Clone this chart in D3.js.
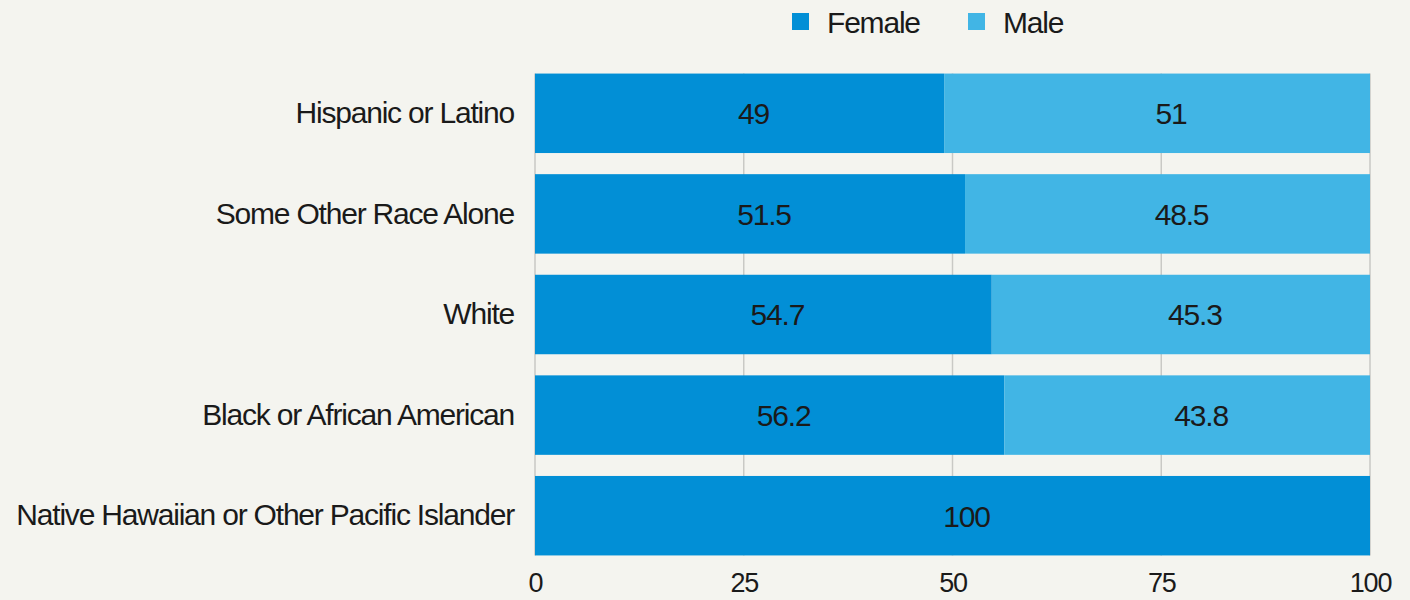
<!DOCTYPE html>
<html>
<head>
<meta charset="utf-8">
<script src="https://cdn.jsdelivr.net/npm/d3@7"></script>
<style>
	body { margin: 0; background: #f4f4ef; }
	svg { display: block; }
	text { font-family: "Liberation Sans", Arial, sans-serif; fill: #1a1a1a; letter-spacing: -1.2px; }
</style>
</head>
<body>
<svg id="chart"></svg>
<script>
const categories = ["Hispanic or Latino", "Some Other Race Alone", "White",
                    "Black or African American", "Native Hawaiian or Other Pacific Islander"];
const female = [49, 51.5, 54.7, 56.2, 100];
const male   = [51, 48.5, 45.3, 43.8, 0];
const series_names = ["Female", "Male"];
const colors = ["#028fd6", "#41b5e5"];
const x_ticks = [0, 25, 50, 75, 100];

const width = 1410, height = 600;
const margin = {top: 63, right: 40, bottom: 34, left: 535};

let svg = d3.select("#chart")
	.attr("width", width)
	.attr("height", height);

let xscale = d3.scaleLinear()
	.domain([0, 100])
	.range([margin.left, width - margin.right]);

let yscale = d3.scaleBand()
	.domain(categories)
	.range([margin.top, height - margin.bottom])
	.paddingInner(0.21)
	.paddingOuter(0.105);

let rows = categories.map((c, i) => ({cat: c, values: [female[i], male[i]]}));

// gridlines, spanning first bar top to last bar bottom
let grid_top = yscale(categories[0]);
let grid_bottom = yscale(categories[categories.length-1]) + yscale.bandwidth();

svg.append("g")
	.attr("id", "grid")
	.selectAll("line")
	.data(x_ticks)
	.join("line")
	.attr("x1", d => xscale(d))
	.attr("x2", d => xscale(d))
	.attr("y1", grid_top)
	.attr("y2", grid_bottom)
	.attr("stroke", "#c9c9c5")
	.attr("stroke-width", 1.5);

// stacked bars
let segments = [];
for (let r of rows) {
	let acc = 0;
	r.values.forEach((v, k) => {
		segments.push({cat: r.cat, x0: acc, x1: acc + v, value: v, k: k});
		acc += v;
	});
}

svg.append("g")
	.attr("id", "bars")
	.selectAll("rect")
	.data(segments.filter(d => d.value > 0))
	.join("rect")
	.attr("x", d => xscale(d.x0))
	.attr("width", d => xscale(d.x1) - xscale(d.x0))
	.attr("y", d => yscale(d.cat))
	.attr("height", yscale.bandwidth())
	.attr("fill", d => colors[d.k]);

svg.append("g")
	.attr("id", "bar-labels")
	.selectAll("text")
	.data(segments.filter(d => d.value > 0))
	.join("text")
	.attr("x", d => (xscale(d.x0) + xscale(d.x1)) / 2 + 14)
	.attr("y", d => yscale(d.cat) + yscale.bandwidth() / 2)
	.attr("dy", "0.36em")
	.attr("text-anchor", "middle")
	.style("font-size", "30px")
	.text(d => d.value);

// category axis
let yaxis = svg.append("g")
	.attr("id", "y-axis")
	.attr("transform", "translate(" + margin.left + ",0)")
	.call(d3.axisLeft(yscale).tickSize(0).tickPadding(21));
yaxis.select(".domain").remove();
yaxis.selectAll("text")
	.attr("fill", "#1a1a1a")
	.style("font-size", "30px");

// value axis
let xaxis = svg.append("g")
	.attr("id", "x-axis")
	.attr("transform", "translate(0," + (height - 8) + ")")
	.call(d3.axisBottom(xscale).tickValues(x_ticks).tickSize(0).tickPadding(0));
xaxis.select(".domain").remove();
xaxis.selectAll("text")
	.attr("dy", 0)
	.attr("fill", "#1a1a1a")
	.style("font-size", "27px");

// legend
let legend = svg.append("g").attr("id", "legend");
let legend_x = [792, 968];
series_names.forEach((name, k) => {
	let g = legend.append("g").attr("transform", "translate(" + legend_x[k] + ",13)");
	g.append("rect")
	 .attr("width", 17)
	 .attr("height", 17)
	 .attr("fill", colors[k]);
	g.append("text")
	 .attr("x", 35)
	 .attr("y", 20)
	 .style("font-size", "30px")
	 .text(name);
});
</script>
</body>
</html>
